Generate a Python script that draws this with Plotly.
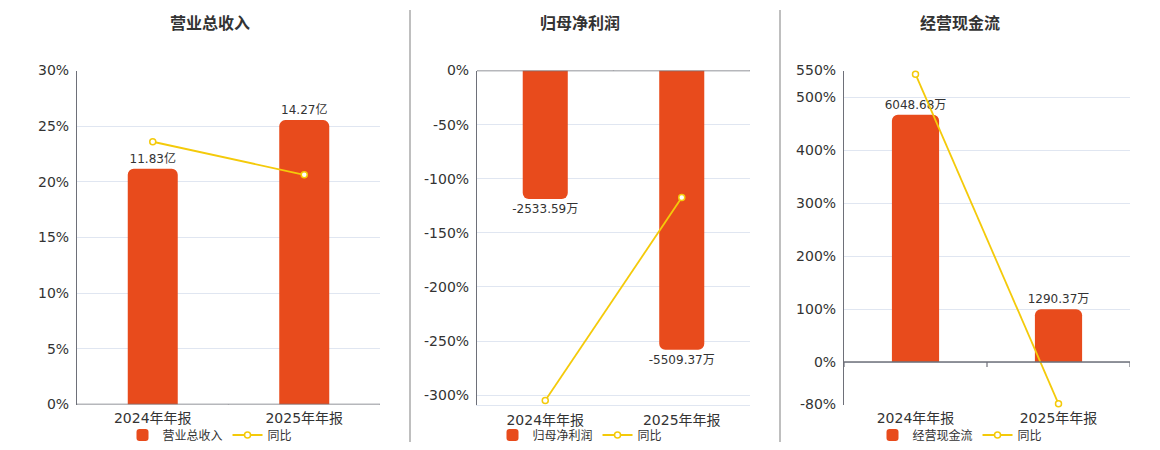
import plotly.graph_objects as go

# 报告期
periods = ["2024年年报", "2025年年报"]

# 营业总收入 (亿) 及同比 (%)
revenue = [11.83, 14.27]
revenue_yoy = [23.6, 20.63]

# 归母净利润 (万) 及同比 (%)
profit = [-2533.59, -5509.37]
profit_yoy = [-305.0, -117.45]

# 经营现金流 (万) 及同比 (%)
cashflow = [6048.68, 1290.37]
cashflow_yoy = [543.0, -78.67]

# 百分比轴刻度
ticks_rev = [0, 5, 10, 15, 20, 25, 30]
ticks_profit = [0, -50, -100, -150, -200, -250, -300]
ticks_cash = [-80, 0, 100, 200, 300, 400, 500, 550]

BAR = "#E84B1C"
LINE = "#F4CA0A"
GRID = "#E0E6F1"
AXIS = "#6E7079"
TXT = "#333333"
FONT = "DejaVu Sans, Noto Sans CJK SC, sans-serif"

# page body has an 8px margin, so the figure is made smaller and offset
OFF = 8
W, H = 1160 - 2 * OFF, 450 - 2 * OFF


def px(x):
    return (x - OFF) / W


def py(y):
    return 1 - (y - OFF) / H


y_dom = [py(404.5), py(70.5)]

panels = [
    dict(title="营业总收入", name="营业总收入", bars=revenue, yoy=revenue_yoy, unit="亿",
         bar_range=[0, 16.76], pct_range=[0, 30], ticks=ticks_rev,
         dom=[px(77), px(380)], cx=210, tick_dir=-5),
    dict(title="归母净利润", name="归母净利润", bars=profit, yoy=profit_yoy, unit="万",
         bar_range=[-6590, 0], pct_range=[-308.6, 0], ticks=ticks_profit,
         dom=[px(477), px(750)], cx=580, tick_dir=5),
    dict(title="经营现金流", name="经营现金流", bars=cashflow, yoy=cashflow_yoy, unit="万",
         bar_range=[-1038, 7134], pct_range=[-80, 550], ticks=ticks_cash,
         dom=[px(844), px(1130)], cx=960, tick_dir=-5),
]

fig = go.Figure()
shapes = []
annotations = []
layout = {}

for i, p in enumerate(panels):
    n = i + 1
    xa = "x" if n == 1 else f"x{n}"
    yb = "y" if i == 0 else f"y{2 * i + 1}"
    yl = f"y{2 * i + 2}"
    leg = "legend" if n == 1 else f"legend{n}"

    fig.add_trace(go.Bar(
        x=periods, y=p["bars"], name=p["name"], xaxis=xa, yaxis=yb, legend=leg,
        width=0.33, marker=dict(color=BAR, cornerradius=6, line=dict(width=0)),
        texttemplate="%{y:.2f}" + p["unit"], textposition="outside", constraintext="none",
        textfont=dict(size=12, color=TXT, family=FONT), cliponaxis=False,
    ))
    fig.add_trace(go.Scatter(
        x=periods, y=p["yoy"], name="同比", xaxis=xa, yaxis=yl, legend=leg,
        mode="lines+markers", line=dict(color=LINE, width=1.8),
        marker=dict(symbol="circle", size=6, color="white", line=dict(color=LINE, width=1.5)),
        cliponaxis=False,
    ))

    xkey = "xaxis" if n == 1 else f"xaxis{n}"
    layout[xkey] = dict(
        domain=p["dom"], anchor=yb, type="category",
        range=[-0.5, 1.5], showgrid=False, zeroline=False,
        showline=(n == 2), linecolor=GRID, linewidth=1,
        ticks="", tickfont=dict(size=14, color=TXT, family=FONT),
        ticklabelstandoff=3,
    )
    ybkey = "yaxis" if i == 0 else f"yaxis{2 * i + 1}"
    layout[ybkey] = dict(domain=y_dom, anchor=xa, range=p["bar_range"], visible=False)
    ylkey = f"yaxis{2 * i + 2}"
    layout[ylkey] = dict(
        overlaying=yb, anchor=xa, side="left", range=p["pct_range"],
        tickvals=p["ticks"], ticktext=[f"{t}%" for t in p["ticks"]],
        showgrid=True, gridcolor=GRID, gridwidth=1, zeroline=False,
        showline=True, linecolor=AXIS, linewidth=1.2, ticks="",
        tickfont=dict(size=14, color=TXT, family=FONT), ticklabelstandoff=4,
    )

    # 零轴及其刻度 (bar axis zero sits at the same height as 0%)
    shapes.append(dict(type="line", xref=f"{xa} domain", yref=yb, x0=0, x1=1, y0=0, y1=0,
                       line=dict(color=AXIS, width=1.5)))
    for bx in [-0.5, 0.5, 1.5]:
        shapes.append(dict(type="line", xref=xa, yref=yb, ysizemode="pixel", yanchor=0,
                           x0=bx, x1=bx, y0=0, y1=p["tick_dir"],
                           line=dict(color=AXIS, width=1.2)))

    annotations.append(dict(text=f"<b>{p['title']}</b>", xref="paper", yref="paper",
                            x=px(p["cx"]), y=py(23), xanchor="center", yanchor="middle",
                            showarrow=False, font=dict(size=16, color=TXT, family=FONT)))

    layout[leg] = dict(orientation="h", x=px(p["cx"]), xanchor="center",
                       y=py(435), yanchor="middle", bgcolor="rgba(0,0,0,0)",
                       font=dict(size=12, color=TXT, family=FONT),
                       itemwidth=30, tracegroupgap=0)

# 分隔线
for sx in [410, 780]:
    shapes.append(dict(type="line", xref="paper", yref="paper", x0=px(sx), x1=px(sx),
                       y0=py(10), y1=py(442), line=dict(color="#AAAAAA", width=1.5)))

fig.update_layout(
    width=W, height=H, margin=dict(l=0, r=0, t=0, b=0, autoexpand=False),
    plot_bgcolor="white", paper_bgcolor="white",
    showlegend=True, barmode="group",
    shapes=shapes, annotations=annotations,
    font=dict(family=FONT, color=TXT),
    **layout,
)

fig.write_html("out.html")
